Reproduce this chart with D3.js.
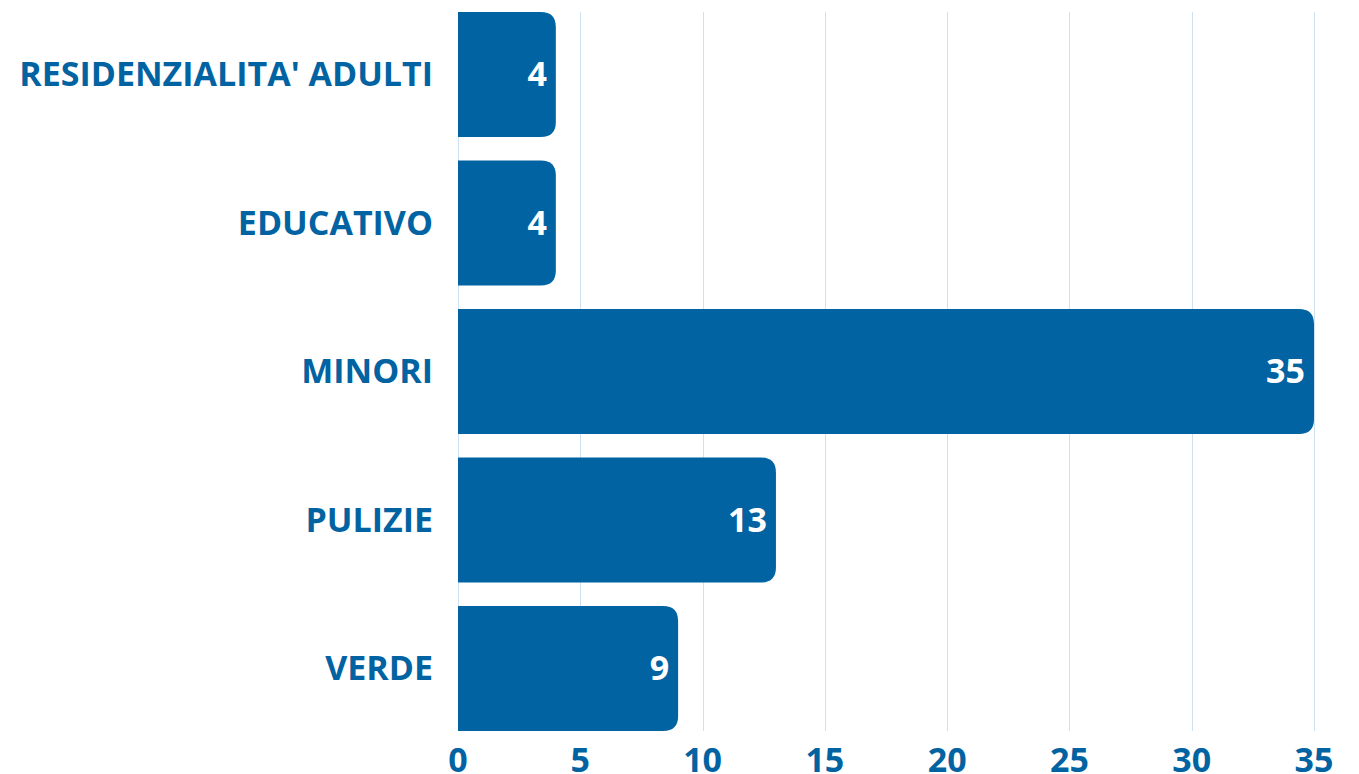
<!DOCTYPE html>
<html>
<head>
<meta charset="utf-8">
<script src="https://cdn.jsdelivr.net/npm/d3@7"></script>
<style>
body { margin: 0; background: #fff; }
text { font-family: "Open Sans", sans-serif; font-weight: 700; }
</style>
</head>
<body>
<div id="chart"></div>
<script>
var categories = ["RESIDENZIALITA' ADULTI", "EDUCATIVO", "MINORI", "PULIZIE", "VERDE"];
var values = [4, 4, 35, 13, 9];
var ticks = [0, 5, 10, 15, 20, 25, 30, 35];

var W = 1359, H = 774;
var plotLeft = 458, plotRight = 1314, plotTop = 12, plotBottom = 731;
var blue = "#0263a2";
var fs = 34;

var svg = d3.select("#chart")
	.append("svg")
	.attr("width", W)
	.attr("height", H);

var x = d3.scaleLinear().domain([0, 35]).range([plotLeft, plotRight]);
var y = d3.scaleBand().domain(categories).range([plotTop, plotBottom]).paddingInner(0.158).paddingOuter(0);

// grid
svg.append("g")
	.selectAll("line")
	.data(ticks)
	.enter()
	.append("line")
	.attr("x1", function(d) { return Math.round(x(d)) + 0.5; })
	.attr("x2", function(d) { return Math.round(x(d)) + 0.5; })
	.attr("y1", plotTop)
	.attr("y2", plotBottom)
	.attr("stroke", "#cfe0ee")
	.attr("stroke-width", 1);

// bars, rounded on the right only
var r = 15;
function barPath(d, i)
{
	var x0 = x(0), x1 = x(d), y0 = y(categories[i]), h = y.bandwidth();
	var rr = Math.min(r, (x1 - x0));
	return "M" + x0 + "," + y0 +
		"H" + (x1 - rr) +
		"Q" + x1 + "," + y0 + " " + x1 + "," + (y0 + rr) +
		"V" + (y0 + h - rr) +
		"Q" + x1 + "," + (y0 + h) + " " + (x1 - rr) + "," + (y0 + h) +
		"H" + x0 + "Z";
}

svg.append("g")
	.selectAll("path")
	.data(values)
	.enter()
	.append("path")
	.attr("d", barPath)
	.attr("fill", blue);

// value labels
svg.append("g")
	.selectAll("text")
	.data(values)
	.enter()
	.append("text")
	.attr("x", function(d) { return x(d) - 9; })
	.attr("y", function(d, i) { return y(categories[i]) + y.bandwidth() / 2; })
	.attr("dy", "0.35em")
	.attr("text-anchor", "end")
	.attr("font-size", fs)
	.attr("fill", "#fff")
	.text(function(d) { return d; });

// category labels
svg.append("g")
	.selectAll("text")
	.data(categories)
	.enter()
	.append("text")
	.attr("x", plotLeft - 25)
	.attr("y", function(d) { return y(d) + y.bandwidth() / 2; })
	.attr("dy", "0.35em")
	.attr("text-anchor", "end")
	.attr("font-size", fs)
	.attr("fill", blue)
	.text(function(d) { return d; });

// x tick labels
svg.append("g")
	.selectAll("text")
	.data(ticks)
	.enter()
	.append("text")
	.attr("x", function(d) { return x(d); })
	.attr("y", 772)
	.attr("text-anchor", "middle")
	.attr("font-size", fs)
	.attr("fill", blue)
	.text(function(d) { return d; });
</script>
</body>
</html>
